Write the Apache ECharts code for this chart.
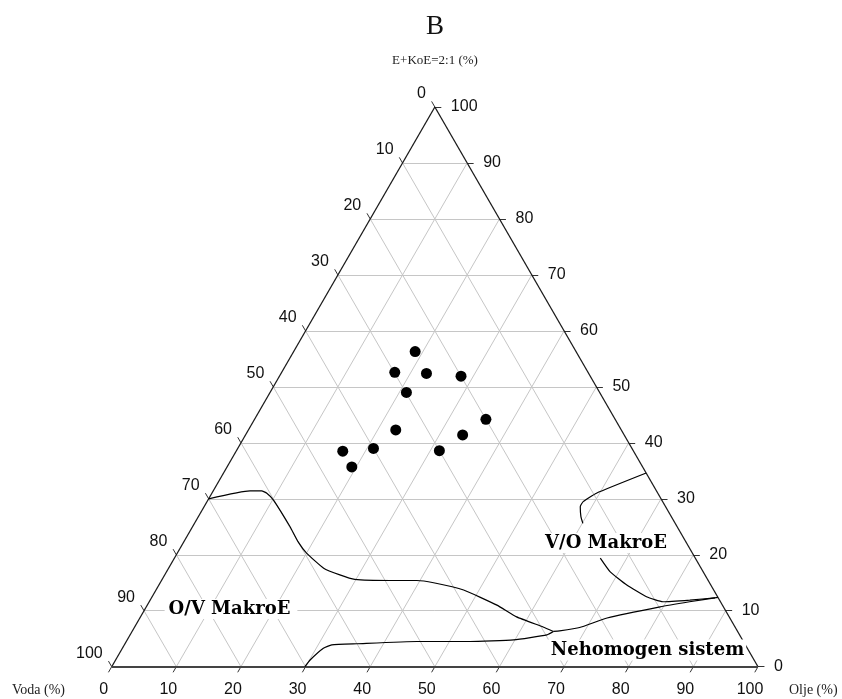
<!DOCTYPE html>
<html><head><meta charset="utf-8">
<script src="https://cdn.jsdelivr.net/npm/echarts/dist/echarts.min.js"></script>
<style>html,body{margin:0;padding:0;background:#fff}#c{width:842px;height:699px}</style>
</head><body><div id="c"></div>
<script>
// ---- data (ternary: Olje %, E+KoE %; Voda = 100 - both) ----
const tickValues = [0,10,20,30,40,50,60,70,80,90,100];
const dotOil  = [18.8, 17.5, 22.5, 28.1, 21.1, 35.8, 22.8, 33.6, 21.0, 16.5, 31.4, 19.3];
const dotEmul = [56.3, 52.6, 52.4, 51.9, 49.0, 44.2, 42.3, 41.4, 39.0, 38.5, 38.6, 35.7];

const ovUpperOil  = [0, 5.7, 7.5, 8.5, 10.1, 15.1, 17.7, 20.0, 24.0, 27.1, 29.8, 35.4, 39.5, 42.3, 47.6, 54.1, 58.2, 63.2, 65.2];
const ovUpperEmul = [30.0, 31.4, 31.4, 31.0, 29.8, 25.0, 22.3, 20.3, 17.6, 16.4, 15.6, 15.4, 15.4, 15.0, 13.7, 11.0, 8.9, 7.1, 6.3];
const ovLowerOil  = [29.9, 30.1, 31.1, 32.1, 35.9, 45.0, 53.2, 59.8, 64.5, 65.2];
const ovLowerEmul = [0, 1.2, 3.3, 3.9, 4.1, 4.5, 4.5, 4.8, 5.7, 6.3];
const nehomOil    = [65.2, 66.1, 68.9, 72.3, 79.5, 83.6, 87.6];
const nehomEmul   = [6.3, 6.4, 7.0, 8.7, 10.7, 11.6, 12.4];
const voLowerOil  = [65.9, 68.6, 72.4, 76.5, 79.5, 83.5, 87.2];
const voLowerEmul = [19.4, 17.0, 14.6, 12.5, 11.6, 11.9, 12.3];
const voUpperOil  = [65.4, 59.5, 58.2, 58.2, 59.2, 60.1];
const voUpperEmul = [34.6, 31.0, 29.5, 28.6, 26.8, 25.6];

const titleText = 'B';
const topAxisName = 'E+KoE=2:1 (%)';
const leftAxisName = 'Voda (%)';
const rightAxisName = 'Olje (%)';
const regionLabels = ['O/V MakroE', 'V/O MakroE', 'Nehomogen sistem'];

// ---- helpers ----
const S3 = Math.sqrt(3) / 2;
function xy(o, e) { return [o + e / 2, e * S3]; }
function zipXY(os, es) { return os.map((o, i) => xy(o, es[i])); }

const inner = tickValues.slice(1, -1);
const gridCoords = [];
inner.forEach(k => {
  gridCoords.push({coords: [xy(0, k), xy(100 - k, k)]});
  gridCoords.push({coords: [xy(k, 0), xy(k, 100 - k)]});
  gridCoords.push({coords: [xy(100 - k, 0), xy(0, 100 - k)]});
});
const d = 1.0;
const tickCoords = [];
tickValues.forEach(k => {
  tickCoords.push({coords: [xy(k, 0), xy(k, -d)]});
  tickCoords.push({coords: [xy(0, 100 - k), xy(-d, 100 - k + d)]});
  tickCoords.push({coords: [xy(100 - k, k), xy(100 - k + d, k)]});
});

const tickFont = {fontFamily: 'Liberation Sans', fontSize: 16, color: '#111', opacity: 1};
function labelSeries(points, align, offset) {
  return {
    type: 'scatter', symbol: 'circle', symbolSize: 1, silent: true, clip: false,
    itemStyle: {color: 'rgba(0,0,0,0)', opacity: 1},
    data: points,
    label: Object.assign({show: true, position: 'inside', formatter: '{b}', align: align,
      verticalAlign: 'middle', offset: offset}, tickFont),
    z: 5
  };
}

const curveStyle = (os, es) => ({
  type: 'line', data: zipXY(os, es), symbol: 'none', smooth: 0.15, clip: false,
  lineStyle: {color: '#000', width: 1.2}, silent: true, z: 4
});

const chart = echarts.init(document.getElementById('c'), null, {renderer: 'canvas'});
const regionFont = 'bold 18px "DejaVu Serif"';
chart.setOption({
  animation: false,
  backgroundColor: '#fff',
  grid: {left: 111.7, top: 107, width: 646.3, height: 559.7},
  xAxis: {type: 'value', min: 0, max: 100, show: false},
  yAxis: {type: 'value', min: 0, max: 100 * S3, show: false},
  series: [
    {type: 'lines', coordinateSystem: 'cartesian2d', data: gridCoords, silent: true, clip: false,
      lineStyle: {color: '#c6c6c6', width: 1, opacity: 1}, z: 1},
    {type: 'lines', coordinateSystem: 'cartesian2d', data: tickCoords, silent: true, clip: false,
      lineStyle: {color: '#333', width: 1, opacity: 1}, z: 2},
    {type: 'lines', coordinateSystem: 'cartesian2d', silent: true, clip: false,
      data: [{coords: [xy(0, 0), xy(0, 100)]}, {coords: [xy(0, 100), xy(100, 0)]}],
      lineStyle: {color: '#1a1a1a', width: 1.3, opacity: 1}, z: 3},
    {type: 'lines', coordinateSystem: 'cartesian2d', silent: true, clip: false,
      data: [{coords: [xy(0, 0), xy(100, 0)]}],
      lineStyle: {color: '#444', width: 2, opacity: 1}, z: 3},
    curveStyle(ovUpperOil, ovUpperEmul),
    curveStyle(ovLowerOil, ovLowerEmul),
    curveStyle(nehomOil, nehomEmul),
    curveStyle(voLowerOil, voLowerEmul),
    curveStyle(voUpperOil, voUpperEmul),
    {type: 'scatter', data: zipXY(dotOil, dotEmul), symbol: 'circle', symbolSize: 11,
      itemStyle: {color: '#000', opacity: 1}, z: 6, clip: false, silent: true},
    labelSeries(tickValues.map(k => ({name: String(k), value: xy(0, 100 - k)})), 'right', [-9, -13]),
    labelSeries(tickValues.map(k => ({name: String(k), value: xy(100 - k, k)})), 'left', [16, 0]),
    labelSeries(tickValues.map(k => ({name: String(k), value: xy(k, 0)})), 'center', [-8, 23])
  ],
  graphic: [
    {type: 'text', z: 100, style: {text: titleText, x: 435, y: 27, align: 'center', verticalAlign: 'middle',
      font: '27px "Liberation Serif"', fill: '#111'}},
    {type: 'text', z: 100, style: {text: topAxisName, x: 435, y: 61, align: 'center', verticalAlign: 'middle',
      font: '13px "Liberation Serif"', fill: '#222'}},
    {type: 'text', z: 100, style: {text: leftAxisName, x: 12, y: 690, align: 'left', verticalAlign: 'middle',
      font: '14px "Liberation Serif"', fill: '#222'}},
    {type: 'text', z: 100, style: {text: rightAxisName, x: 789, y: 690, align: 'left', verticalAlign: 'middle',
      font: '14px "Liberation Serif"', fill: '#222'}},
    {type: 'text', z: 100, style: {text: regionLabels[0], x: 231, y: 609, align: 'center', verticalAlign: 'middle',
      font: regionFont, fill: '#000', backgroundColor: '#fff', padding: [1, 7, 1, 4]}},
    {type: 'text', z: 100, style: {text: regionLabels[1], x: 606, y: 543, align: 'center', verticalAlign: 'middle',
      font: regionFont, fill: '#000', backgroundColor: '#fff', padding: [1, 3, 1, 3]}},
    {type: 'text', z: 100, style: {text: regionLabels[2], x: 647, y: 650, align: 'center', verticalAlign: 'middle',
      font: regionFont, fill: '#000', backgroundColor: '#fff', padding: [2, 2, 1, 3]}}
  ]
});
</script>
</body></html>
